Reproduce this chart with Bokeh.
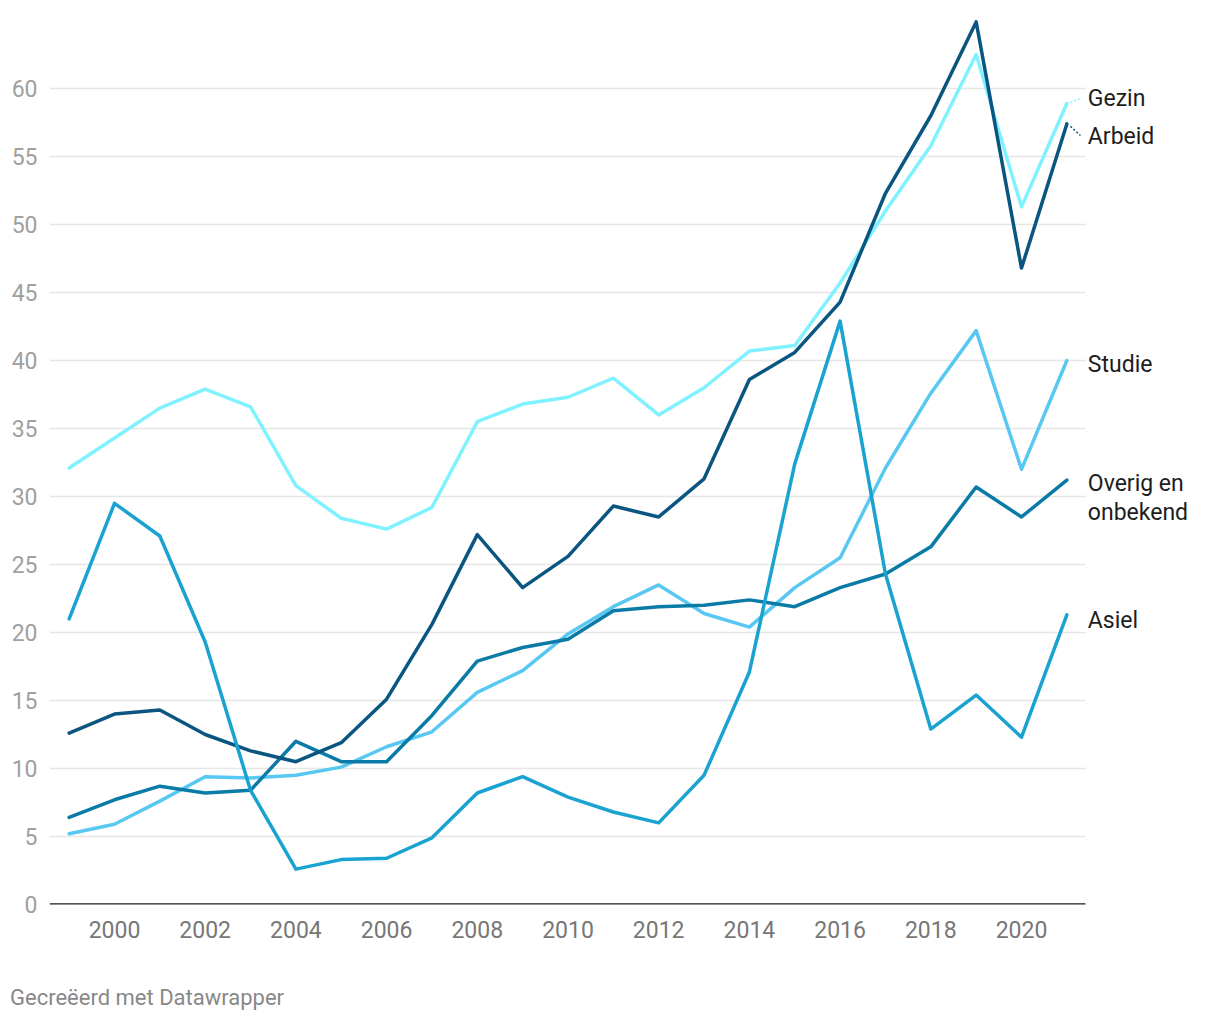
from bokeh.plotting import figure
from bokeh.models import Range1d, FixedTicker, ColumnDataSource, Div
from bokeh.layouts import column
from bokeh.core.properties import value
from bokeh.embed import file_html
from bokeh.resources import INLINE

years = list(range(1999, 2022))

gezin = [32.1, 34.3, 36.5, 37.9, 36.6, 30.8, 28.4, 27.6, 29.2, 35.5, 36.8, 37.3,
         38.7, 36.0, 38.0, 40.7, 41.1, 45.7, 51.0, 55.8, 62.5, 51.3, 58.9]
arbeid = [12.6, 14.0, 14.3, 12.5, 11.3, 10.5, 11.9, 15.1, 20.6, 27.2, 23.3, 25.6,
          29.3, 28.5, 31.3, 38.6, 40.6, 44.3, 52.3, 58.0, 64.9, 46.8, 57.4]
studie = [5.2, 5.9, 7.6, 9.4, 9.3, 9.5, 10.1, 11.6, 12.7, 15.6, 17.2, 19.9,
          21.9, 23.5, 21.4, 20.4, 23.3, 25.5, 32.1, 37.6, 42.2, 32.0, 40.0]
overig = [6.4, 7.7, 8.7, 8.2, 8.4, 12.0, 10.5, 10.5, 13.9, 17.9, 18.9, 19.5,
          21.6, 21.9, 22.0, 22.4, 21.9, 23.3, 24.3, 26.3, 30.7, 28.5, 31.2]
asiel = [21.0, 29.5, 27.1, 19.3, 8.4, 2.6, 3.3, 3.4, 4.9, 8.2, 9.4, 7.9,
         6.8, 6.0, 9.5, 17.1, 32.4, 42.9, 24.3, 12.9, 15.4, 12.3, 21.3]

series_names = ["Gezin", "Studie", "Overig en\nonbekend", "Arbeid", "Asiel"]
series_values = [gezin, studie, overig, arbeid, asiel]
series_colors = ["#80f2ff", "#58c8f2", "#0a7ba6", "#0a5680", "#1aa3d0"]
label_y = [59.3, 39.7, 29.9, 56.5, 20.9]
has_connector = [True, False, False, True, False]

y_ticks = [0, 5, 10, 15, 20, 25, 30, 35, 40, 45, 50, 55, 60]
x_ticks = [2000, 2002, 2004, 2006, 2008, 2010, 2012, 2014, 2016, 2018, 2020]

X_MIN, X_MAX_AXIS, X_MAX_FRAME = 1998.567, 2021.41, 2023.947
FONT = "Roboto"

p = figure(width=1210, height=960, output_backend="svg", toolbar_location=None,
           x_range=Range1d(X_MIN, X_MAX_FRAME), y_range=Range1d(0, 65.74),
           min_border_left=49, min_border_right=10, min_border_top=10,
           min_border_bottom=56)
p.outline_line_color = None
p.background_fill_color = "white"
p.border_fill_color = "white"

# axes
p.xaxis.ticker = FixedTicker(ticks=x_ticks)
p.yaxis.ticker = FixedTicker(ticks=y_ticks)
p.xgrid.grid_line_color = None
p.ygrid.grid_line_color = None

p.xaxis.axis_line_color = None
p.xaxis.major_tick_line_color = None
p.xaxis.minor_tick_line_color = None
p.xaxis.major_tick_out = 0
p.xaxis.major_tick_in = 0
p.xaxis.major_label_standoff = 16
p.xaxis.major_label_text_font = FONT
p.xaxis.major_label_text_font_size = "23px"
p.xaxis.major_label_text_color = "#777777"

p.yaxis.axis_line_color = None
p.yaxis.major_tick_line_color = None
p.yaxis.minor_tick_line_color = None
p.yaxis.major_tick_out = 0
p.yaxis.major_tick_in = 0
p.yaxis.major_label_standoff = 12
p.yaxis.major_label_text_font = FONT
p.yaxis.major_label_text_font_size = "23px"
p.yaxis.major_label_text_color = "#a0a0a0"

# gridlines and baseline limited to the chart area
grid_y = y_ticks[1:]
p.segment(x0=[X_MIN] * len(grid_y), y0=grid_y, x1=[X_MAX_AXIS] * len(grid_y), y1=grid_y,
          line_color="#e6e6e6", line_width=1.5)
p.segment(x0=[X_MIN], y0=[0], x1=[X_MAX_AXIS], y1=[0], line_color="#1d1d1d", line_width=2.5)

for name, vals, col, ly, conn in zip(series_names, series_values, series_colors,
                                     label_y, has_connector):
    p.line(years, vals, line_color=col, line_width=3.5, line_join="round", line_cap="round")
    end = vals[-1]
    if conn:
        p.segment(x0=[years[-1] + 0.08], y0=[end + (ly - end) * 0.2],
                  x1=[years[-1] + 0.3], y1=[ly + (end - ly) * 0.05], line_color=col,
                  line_width=1.5, line_dash="2 2")
    src = ColumnDataSource(dict(x=[years[-1]], y=[ly], t=[name]))
    p.text(x="x", y="y", text="t", source=src, x_offset=21,
           text_font=value(FONT), text_font_size="23px", text_color="#1d1d1d",
           text_baseline="middle", text_align="left", text_line_height=1.1)

footer = Div(text='<div style="font-family: Roboto; font-size: 22px; color: #888888; '
                  'line-height: 26px; margin: 20px 0 0 5px; white-space: nowrap;">'
                  'Gecreëerd met Datawrapper</div>',
             width=600, height=50)

layout = column(p, footer, spacing=0)

open("out.html", "w").write(file_html(layout, INLINE))
